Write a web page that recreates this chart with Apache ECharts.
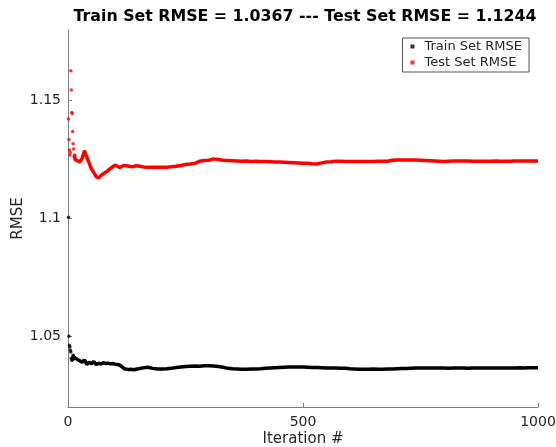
<!DOCTYPE html>
<html>
<head>
<meta charset="utf-8">
<script src="https://cdn.jsdelivr.net/npm/echarts@6/dist/echarts.min.js"></script>
<style>
  html, body { margin: 0; padding: 0; background: #ffffff; }
  #chart { width: 556px; height: 447px; }
</style>
</head>
<body>
<div id="chart"></div>
<script>
// Iteration numbers at which the RMSE was recorded
const iterations = [
  1, 2, 3, 4, 5, 6, 7, 8, 9, 10, 11, 12, 13, 14,
  15, 20, 25, 30, 35, 40, 45, 50, 55, 60, 65, 70, 75, 80, 85, 90, 95, 100,
  105, 110, 115, 120, 125, 130, 135, 140, 145, 150,
  160, 170, 180, 190, 200, 210, 220, 230, 240, 250, 260, 270, 280, 290, 300,
  310, 320, 330, 340, 350, 360, 370, 380, 390, 400, 410, 420, 430, 440, 450,
  460, 470, 480, 490, 500, 510, 520, 530, 540, 550, 560, 570, 580, 590, 600,
  610, 620, 630, 640, 650, 660, 670, 680, 690, 700, 710, 720, 730, 740, 750,
  760, 770, 780, 790, 800, 810, 820, 830, 840, 850, 860, 870, 880, 890, 900,
  910, 920, 930, 940, 950, 960, 970, 980, 990, 1000
];

const trainRmse = [
  1.1005, 1.0500, 1.0462, 1.0455, 1.0441, 1.0433, 1.0407, 1.0398, 1.0400, 1.0410, 1.0420, 1.0415, 1.0405, 1.0410,
  1.0412, 1.0402, 1.0396, 1.0390, 1.0400, 1.0380, 1.0390, 1.0384, 1.0393, 1.0380, 1.0386, 1.0382, 1.0388, 1.0385, 1.0386, 1.0383, 1.0385, 1.0382,
  1.0380, 1.0378, 1.0370, 1.0362, 1.0360, 1.0359, 1.0360, 1.0358, 1.0360, 1.0362,
  1.0366, 1.0369, 1.0364, 1.0361, 1.0361, 1.0362, 1.0364, 1.0368, 1.0370, 1.0372, 1.0373, 1.0374, 1.0373, 1.0375, 1.0375,
  1.0374, 1.0372, 1.0369, 1.0364, 1.0362, 1.0361, 1.0360, 1.0360, 1.0361, 1.0361, 1.0362, 1.0364, 1.0366, 1.0367, 1.0368,
  1.0369, 1.0370, 1.0370, 1.0370, 1.0370, 1.0369, 1.0368, 1.0368, 1.0367, 1.0366, 1.0366, 1.0365, 1.0364, 1.0364, 1.0362,
  1.0361, 1.0360, 1.0360, 1.0360, 1.0361, 1.0360, 1.0360, 1.0361, 1.0361, 1.0362, 1.0363, 1.0363, 1.0364, 1.0365, 1.0365,
  1.0366, 1.0366, 1.0366, 1.0365, 1.0365, 1.0364, 1.0365, 1.0365, 1.0365, 1.0364, 1.0365, 1.0365, 1.0366, 1.0365, 1.0365,
  1.0366, 1.0366, 1.0366, 1.0366, 1.0366, 1.0367, 1.0366, 1.0367, 1.0367, 1.0367
];

const testRmse = [
  1.1422, 1.1335, 1.1291, 1.1270, 1.1280, 1.1627, 1.1545, 1.1450, 1.1446, 1.1369, 1.1317, 1.1295, 1.1262, 1.1270,
  1.1250, 1.1245, 1.1240, 1.1255, 1.1288, 1.1260, 1.1235, 1.1210, 1.1195, 1.1178, 1.1172, 1.1182, 1.1190, 1.1196, 1.1203, 1.1212, 1.1220, 1.1226,
  1.1222, 1.1217, 1.1222, 1.1225, 1.1224, 1.1222, 1.1220, 1.1221, 1.1224, 1.1223,
  1.1219, 1.1217, 1.1217, 1.1217, 1.1218, 1.1218, 1.1220, 1.1222, 1.1225, 1.1229, 1.1231, 1.1234, 1.1243, 1.1246, 1.1247,
  1.1253, 1.1250, 1.1247, 1.1246, 1.1245, 1.1244, 1.1243, 1.1244, 1.1242, 1.1243, 1.1242, 1.1242, 1.1241, 1.1240, 1.1240,
  1.1239, 1.1238, 1.1237, 1.1236, 1.1235, 1.1234, 1.1232, 1.1231, 1.1236, 1.1240, 1.1241, 1.1243, 1.1243, 1.1242, 1.1242,
  1.1242, 1.1242, 1.1242, 1.1242, 1.1242, 1.1243, 1.1243, 1.1243, 1.1247, 1.1248, 1.1248, 1.1248, 1.1248, 1.1248, 1.1247,
  1.1246, 1.1245, 1.1244, 1.1243, 1.1242, 1.1243, 1.1244, 1.1244, 1.1244, 1.1244, 1.1243, 1.1243, 1.1243, 1.1243, 1.1243,
  1.1244, 1.1243, 1.1243, 1.1243, 1.1244, 1.1244, 1.1244, 1.1244, 1.1244, 1.1244
];

const xTicks = [0, 500, 1000];
const yTicks = [1.05, 1.1, 1.15];

const titleText = 'Train Set RMSE = 1.0367 --- Test Set RMSE = 1.1244';
const trainName = 'Train Set RMSE';
const testName = 'Test Set RMSE';

// The first iterations are sparse points; after that the points run together as a band
const SPARSE_COUNT = 14;

function pairs(values, from, to) {
  const out = [];
  for (let i = from; i < to; i++) out.push([iterations[i], values[i]]);
  return out;
}

const axisGrey = '#7f7f7f';
const textDark = '#262626';
const font = 'DejaVu Sans';

const chart = echarts.init(document.getElementById('chart'), null, { renderer: 'canvas' });

chart.setOption({
  animation: false,
  backgroundColor: '#ffffff',
  title: {
    text: titleText,
    left: 300,
    textAlign: 'center',
    top: 4,
    textStyle: { fontFamily: font, fontSize: 15.8, fontWeight: 'bold', color: '#000000' }
  },
  grid: { left: 68, right: 18, top: 30, bottom: 40, containLabel: false, outerBoundsMode: 'none' },
  legend: {
    orient: 'vertical',
    right: 27,
    top: 38,
    backgroundColor: '#ffffff',
    borderColor: '#555555',
    borderWidth: 1,
    borderRadius: 0,
    padding: [2, 7, 3, 8],
    itemGap: 3,
    itemWidth: 4,
    itemHeight: 4,
    textStyle: { fontFamily: font, fontSize: 13, color: textDark, padding: [0, 0, 0, 5] },
    data: [
      { name: trainName, icon: 'rect' },
      { name: testName, icon: 'rect' }
    ]
  },
  xAxis: {
    type: 'value',
    min: 0,
    max: 1000,
    name: 'Iteration #',
    nameLocation: 'middle',
    nameGap: 25,
    nameMoveOverlap: false,
    nameTextStyle: { fontFamily: font, fontSize: 15, color: textDark },
    axisLine: { show: true, lineStyle: { color: axisGrey, width: 1 } },
    axisTick: { show: true, inside: true, length: 4, customValues: xTicks, lineStyle: { color: axisGrey } },
    axisLabel: {
      fontFamily: font, fontSize: 14, color: textDark, margin: 8, customValues: xTicks,
      formatter: v => String(v)
    },
    splitLine: { show: false }
  },
  yAxis: {
    type: 'value',
    min: 1.02,
    max: 1.18,
    name: 'RMSE',
    nameLocation: 'middle',
    nameGap: 42,
    nameMoveOverlap: false,
    nameTextStyle: { fontFamily: font, fontSize: 15, color: textDark },
    axisLine: { show: true, lineStyle: { color: axisGrey, width: 1 } },
    axisTick: { show: true, inside: true, length: 4, customValues: yTicks, lineStyle: { color: axisGrey } },
    axisLabel: { fontFamily: font, fontSize: 14, color: textDark, margin: 7, customValues: yTicks },
    splitLine: { show: false }
  },
  series: [
    {
      name: trainName,
      type: 'scatter',
      symbol: 'circle',
      symbolSize: 3.5,
      itemStyle: { color: '#000000' },
      data: pairs(trainRmse, 0, SPARSE_COUNT),
      z: 3
    },
    {
      name: trainName,
      type: 'line',
      showSymbol: false,
      smooth: false,
      lineStyle: { color: '#000000', width: 3.5 },
      itemStyle: { color: '#000000' },
      data: pairs(trainRmse, SPARSE_COUNT - 1, iterations.length),
      z: 3
    },
    {
      name: testName,
      type: 'scatter',
      symbol: 'circle',
      symbolSize: 3.5,
      itemStyle: { color: '#ff0000' },
      data: pairs(testRmse, 0, SPARSE_COUNT),
      z: 2
    },
    {
      name: testName,
      type: 'line',
      showSymbol: false,
      smooth: false,
      lineStyle: { color: '#ff0000', width: 3.5 },
      itemStyle: { color: '#ff0000' },
      data: pairs(testRmse, SPARSE_COUNT - 1, iterations.length),
      z: 2
    }
  ]
});
</script>
</body>
</html>
